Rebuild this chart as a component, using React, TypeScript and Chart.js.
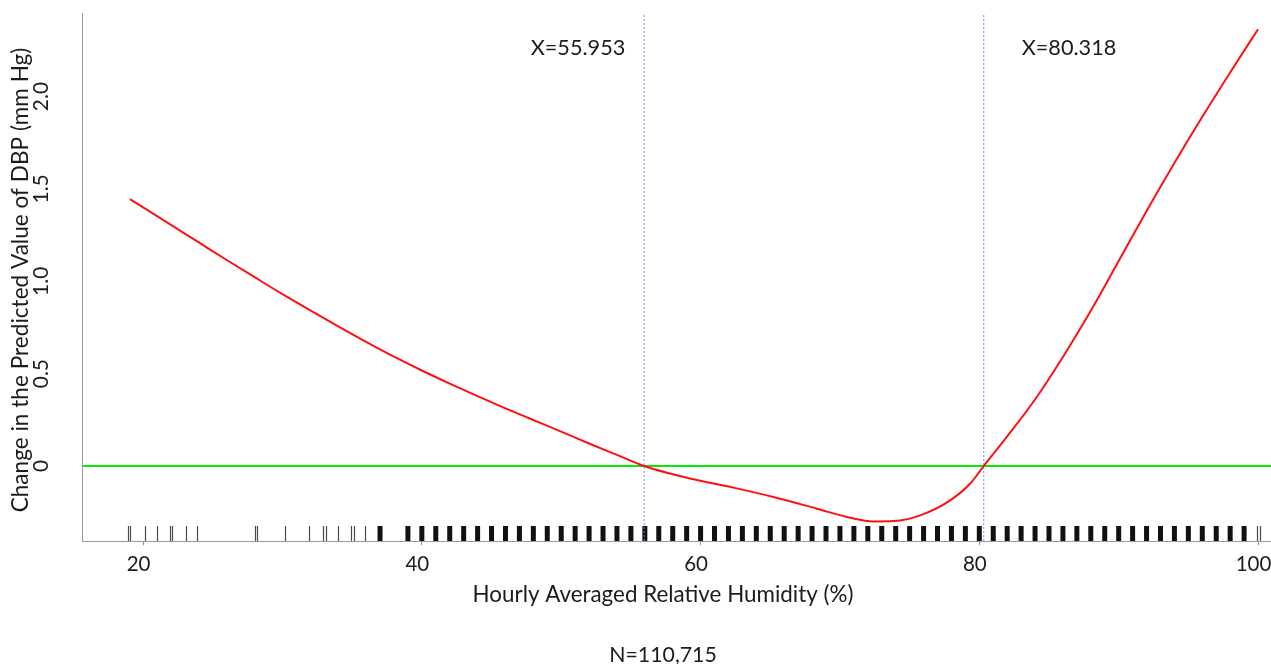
import React, { useEffect, useRef } from "react";
import { Chart, registerables } from "chart.js";

Chart.register(...registerables);

// Smoothed dose-response curve: relative humidity (%) vs change in predicted DBP (mm Hg)
const humidity = [
  19.05, 22, 24, 26, 28, 30, 32, 34, 36, 38, 40, 42, 44, 46, 48, 50, 52, 54,
  55.953, 59.25, 62.36, 65.23, 68.34, 70.73, 72.4, 73.84, 75.76, 77.91, 79.35,
  80.318, 82, 84, 86, 88, 90, 92, 94, 96, 98, 100.0,
];
const dbpChange = [
  1.445, 1.305, 1.21, 1.115, 1.022, 0.93, 0.842, 0.756, 0.672, 0.592, 0.517,
  0.446, 0.378, 0.312, 0.249, 0.186, 0.122, 0.06, 0, -0.068, -0.117, -0.168,
  -0.231, -0.28, -0.3, -0.298, -0.267, -0.186, -0.095, 0, 0.16, 0.36, 0.59,
  0.84, 1.11, 1.38, 1.64, 1.89, 2.13, 2.364,
];

// Threshold points where the curve crosses zero
const thresholds = [55.953, 80.318];
const thresholdLabels = ["X=55.953", "X=80.318"];

// Rug of observed humidity values
const rugSparse = [
  18.95, 19.05, 20.1, 21.0, 21.9, 22.1, 23.1, 23.9, 28.0, 28.2, 30.2, 31.9,
  32.9, 33.1, 34.0, 34.9, 35.1, 35.9, 99.95, 100.15,
];
const rugDense = [
  37, 39, 40, 41, 42, 43, 44, 45, 46, 47, 48, 49, 50, 51, 52, 53, 54, 55, 56,
  57, 58, 59, 60, 61, 62, 63, 64, 65, 66, 67, 68, 69, 70, 71, 72, 73, 74, 75,
  76, 77, 78, 79, 80, 81, 82, 83, 84, 85, 86, 87, 88, 89, 90, 91, 92, 93, 94,
  95, 96, 97, 98, 99,
];

const xTicks = [20, 40, 60, 80, 100];
const xTickLabels = ["20", "40", "60", "80", "100"];
const yTicks = [0, 0.5, 1.0, 1.5, 2.0];
const yTickLabels = ["0", "0.5", "1.0", "1.5", "2.0"];

const xTitle = "Hourly Averaged Relative Humidity (%)";
const yTitle = "Change in the Predicted Value of DBP (mm Hg)";
const sampleNote = "N=110,715";

const X_MIN = 15.65;
const X_MAX = 100.93;
const Y_MIN = -0.406;
const Y_MAX = 2.452;

const W = 1271;
const H = 664;
const FONT = "Lato, 'Open Sans', sans-serif";
const TEXT = "#1c1c1c";

const decorPlugin = {
  id: "decor",
  beforeDatasetsDraw(chart: any) {
    const { ctx, chartArea, scales } = chart;
    const x = scales.x;
    const bottom = chartArea.bottom;
    const rugTop = bottom - 15;
    ctx.save();
    ctx.strokeStyle = "#4a4a4a";
    ctx.lineWidth = 1.2;
    for (const v of rugSparse) {
      const px = Math.round(x.getPixelForValue(v)) + 0.5;
      ctx.beginPath();
      ctx.moveTo(px, rugTop);
      ctx.lineTo(px, bottom);
      ctx.stroke();
    }
    ctx.strokeStyle = "#111";
    ctx.lineWidth = 5;
    for (const v of rugDense) {
      const px = x.getPixelForValue(v);
      ctx.beginPath();
      ctx.moveTo(px, rugTop);
      ctx.lineTo(px, bottom);
      ctx.stroke();
    }
    ctx.restore();
  },
  afterDraw(chart: any) {
    const { ctx, scales } = chart;
    const x = scales.x;
    const y = scales.y;
    ctx.save();
    ctx.fillStyle = TEXT;
    ctx.textAlign = "center";
    ctx.textBaseline = "middle";

    ctx.font = `20.5px ${FONT}`;
    xTicks.forEach((v, i) => {
      ctx.fillText(xTickLabels[i], x.getPixelForValue(v) - 4.5, 564);
    });

    // Rotated labels on the left: baseline sits on the right side of the glyphs
    ctx.textBaseline = "alphabetic";
    ctx.font = `21px ${FONT}`;
    yTicks.forEach((v, i) => {
      ctx.save();
      ctx.translate(48, y.getPixelForValue(v));
      ctx.rotate(-Math.PI / 2);
      ctx.fillText(yTickLabels[i], 0, 0);
      ctx.restore();
    });

    ctx.font = `22.6px ${FONT}`;
    ctx.save();
    ctx.translate(28, 280);
    ctx.rotate(-Math.PI / 2);
    ctx.fillText(yTitle, 0, 0);
    ctx.restore();

    ctx.textBaseline = "middle";
    ctx.font = `22.4px ${FONT}`;
    ctx.fillText(xTitle, 663, 595);
    ctx.font = `21.3px ${FONT}`;
    ctx.fillText(sampleNote, 663, 655);

    ctx.font = `21.7px ${FONT}`;
    ctx.fillText(thresholdLabels[0], 578, 48);
    ctx.fillText(thresholdLabels[1], 1069, 48);
    ctx.restore();
  },
};

export default function App() {
  const canvasRef = useRef<HTMLCanvasElement | null>(null);

  useEffect(() => {
    const canvas = canvasRef.current;
    if (!canvas) return;
    const curve = humidity.map((h, i) => ({ x: h, y: dbpChange[i] }));
    const chart = new Chart(canvas, {
      type: "line",
      data: {
        datasets: [
          {
            data: curve,
            borderColor: "#ff1010",
            borderWidth: 2,
            pointRadius: 0,
            cubicInterpolationMode: "monotone",
          },
          {
            data: [
              { x: X_MIN, y: 0 },
              { x: X_MAX, y: 0 },
            ],
            borderColor: "#00ee00",
            borderWidth: 1.8,
            pointRadius: 0,
          },
          ...thresholds.map((t) => ({
            data: [
              { x: t, y: Y_MIN },
              { x: t, y: Y_MAX },
            ],
            borderColor: "rgba(120,120,255,0.9)",
            borderWidth: 1,
            borderDash: [2, 2],
            pointRadius: 0,
          })),
        ],
      },
      options: {
        responsive: false,
        animation: false,
        devicePixelRatio: 1,
        layout: { padding: { top: 13, left: 0, right: 0, bottom: 0 } },
        plugins: {
          legend: { display: false },
          tooltip: { enabled: false },
          title: { display: false },
        },
        scales: {
          x: {
            type: "linear",
            min: X_MIN,
            max: X_MAX,
            afterBuildTicks: (s: any) => {
              s.ticks = xTicks.map((v) => ({ value: v }));
            },
            afterFit: (s: any) => {
              s.height = H - 541;
            },
            ticks: { display: false },
            grid: {
              display: true,
              drawOnChartArea: false,
              drawTicks: true,
              tickLength: 4,
              color: "#8a8a8a",
            },
            border: { display: true, color: "#9a9a9a", width: 1 },
          },
          y: {
            type: "linear",
            min: Y_MIN,
            max: Y_MAX,
            afterBuildTicks: (s: any) => {
              s.ticks = yTicks.map((v) => ({ value: v }));
            },
            afterFit: (s: any) => {
              s.width = 82.5;
            },
            ticks: { display: false },
            grid: { display: false },
            border: { display: true, color: "#9a9a9a", width: 1 },
          },
        },
      },
      plugins: [decorPlugin],
    } as any);
    return () => chart.destroy();
  }, []);

  return (
    <div
      style={{
        position: "fixed",
        left: 0,
        top: 0,
        width: W,
        height: H,
        background: "#fff",
      }}
    >
      <canvas ref={canvasRef} width={W} height={H} style={{ width: W, height: H }} />
    </div>
  );
}
